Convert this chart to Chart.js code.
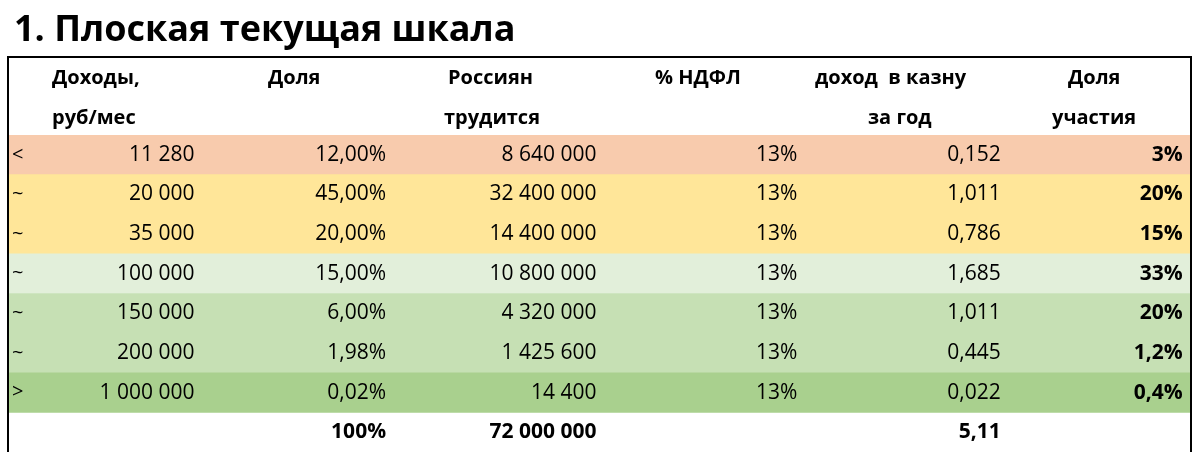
<!DOCTYPE html>
<html><head><meta charset="utf-8">
<script src="https://cdn.jsdelivr.net/npm/chart.js@4"></script>
<style>body{margin:0;background:#fff}#wrap{width:1200px;height:452px}</style>
</head><body><div id="wrap"><canvas id="tbl"></canvas></div>
<script>
// Table data
const prefixes = ["<", "~", "~", "~", "~", "~", ">", ""];
const incomes = ["11 280", "20 000", "35 000", "100 000", "150 000", "200 000", "1 000 000", ""];
const shares = ["12,00%", "45,00%", "20,00%", "15,00%", "6,00%", "1,98%", "0,02%", "100%"];
const workers = ["8 640 000", "32 400 000", "14 400 000", "10 800 000", "4 320 000", "1 425 600", "14 400", "72 000 000"];
const ndfl = ["13%", "13%", "13%", "13%", "13%", "13%", "13%", ""];
const budget = ["0,152", "1,011", "0,786", "1,685", "1,011", "0,445", "0,022", "5,11"];
const participation = ["3%", "20%", "15%", "33%", "20%", "1,2%", "0,4%", ""];
const rowColors = ["#f8cbad", "#ffe699", "#ffe699", "#e2efda", "#c6e0b4", "#c6e0b4", "#a9d08e", "rgba(0,0,0,0)"];
const headers = [["Доходы,", "руб/мес"], ["Доля", ""], ["Россиян", "трудится"], ["% НДФЛ", ""], ["доход  в казну", "за год"], ["Доля", "участия"]];

const rows = incomes.map((_, i) => "r" + i);
const font = '"Open Sans", "Liberation Sans", sans-serif';

const tablePlugin = {
  id: "tableText",
  afterDatasetsDraw(chart) {
    const c = chart.ctx, x = chart.scales.x, y = chart.scales.y;
    c.save();
    // title
    c.fillStyle = "#000";
    c.font = "bold 36px " + font;
    c.textBaseline = "middle";
    c.textAlign = "left";
    c.fillText("1. Плоская текущая шкала", 14, 31);
    // header
    const hx = [52, 268, 448, 655, 815, 1068];
    c.font = "bold 20px " + font;
    headers.forEach((h, k) => {
      const px = hx[k];
      c.fillText(h[0], px, 78);
      if (!h[1]) return;
      const px2 = k === 4 ? 868 : k === 5 ? 1052 : k === 2 ? 444 : px;
      c.fillText(h[1], px2, 118);
    });
    // cells
    const cols = [[incomes, 0.157], [shares, 0.319], [workers, 0.497], [ndfl, 0.667], [budget, 0.839], [participation, 0.993]];
    rows.forEach((_, i) => {
      const py = y.getPixelForValue(i);
      const last = i === rows.length - 1;
      c.textAlign = "left";
      c.font = "20px " + font;
      c.fillText(prefixes[i], 12, py);
      cols.forEach(([arr, fx], k) => {
        c.textAlign = "right";
        c.font = (last || k === 5 ? "bold " : "") + "21px " + font;
        c.fillText(arr[i], x.getPixelForValue(fx), py);
      });
    });
    // border
    c.strokeStyle = "#000";
    c.lineWidth = 2;
    c.beginPath();
    c.moveTo(8, 452); c.lineTo(8, 57); c.lineTo(1191, 57); c.lineTo(1191, 452);
    c.stroke();
    c.restore();
  }
};

new Chart(document.getElementById("tbl"), {
  type: "bar",
  data: {
    labels: rows,
    datasets: [{
      data: rows.map(() => [0, 1]),
      backgroundColor: rowColors,
      barPercentage: 1,
      categoryPercentage: 1,
      borderWidth: 0
    }]
  },
  options: {
    indexAxis: "y",
    responsive: true,
    maintainAspectRatio: false,
    animation: false,
    layout: { padding: { top: 135, left: 9, right: 9, bottom: 0 } },
    scales: {
      x: { display: false, min: 0, max: 1 },
      y: { display: false }
    },
    plugins: { legend: { display: false }, tooltip: { enabled: false } }
  },
  plugins: [tablePlugin]
});
</script></body></html>
